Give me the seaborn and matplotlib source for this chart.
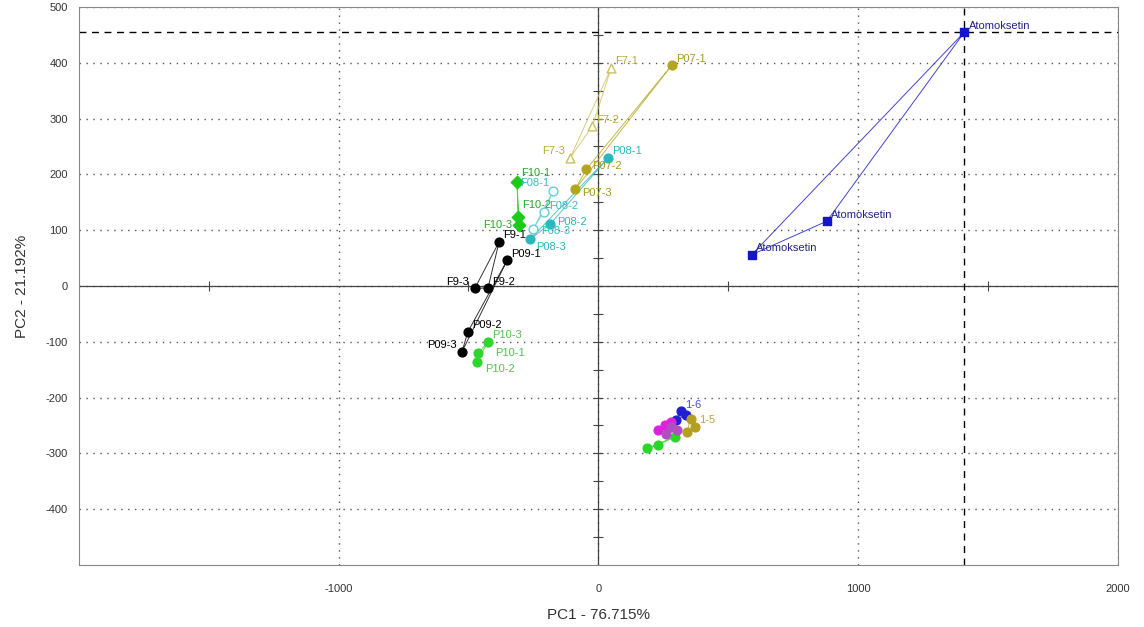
import numpy as np
import pandas as pd
import matplotlib
matplotlib.use("Agg")
import matplotlib.pyplot as plt
import seaborn as sns

# --- scores ---
atom_x = [1410, 880, 591]
atom_y = [455, 116, 56]
atom_lab = ["Atomoksetin", "Atomoksetin", "Atomoksetin"]

f7_x = [50, -23, -108]
f7_y = [391, 286, 230]
f7_lab = ["F7-1", "F7-2", "F7-3"]

p07_x = [282, -46, -89]
p07_y = [395, 209, 173]
p07_lab = ["P07-1", "P07-2", "P07-3"]

f08_x = [-174, -210, -251]
f08_y = [170, 132, 102]
f08_lab = ["F08-1", "F08-2", "F08-3"]

p08_x = [39, -185, -262]
p08_y = [230, 111, 84]
p08_lab = ["P08-1", "P08-2", "P08-3"]

f10_x = [-313, -309, -305]
f10_y = [186, 123, 110]
f10_lab = ["F10-1", "F10-2", "F10-3"]

p10_x = [-425, -463, -467]
p10_y = [-100, -121, -136]
p10_lab = ["P10-3", "P10-1", "P10-2"]

f9_x = [-382, -425, -475]
f9_y = [79, -4, -4]
f9_lab = ["F9-1", "F9-2", "F9-3"]

p09_x = [-351, -502, -525]
p09_y = [46, -82, -118]
p09_lab = ["P09-1", "P09-2", "P09-3"]

# small cluster in the lower right
s1_x = [317, 300, 338]
s1_y = [-225, -240, -232]
s1_lab = ["1-6", "", ""]
s2_x = [228, 255, 278]
s2_y = [-259, -250, -243]
s3_x = [189, 228, 297]
s3_y = [-291, -285, -270]
s4_x = [371, 355, 342]
s4_y = [-252, -238, -262]
s4_lab = ["1-5", "", ""]
s5_x = [280, 302, 262]
s5_y = [-252, -258, -266]

groups = [
    # x, y, labels, colour, marker, filled, text colour
    (atom_x, atom_y, atom_lab, "#1515c8", "s", True, "#22228a"),
    (f7_x, f7_y, f7_lab, "#c9c15a", "^", False, "#b5ab3c"),
    (p07_x, p07_y, p07_lab, "#b3a61e", "o", True, "#a89a1c"),
    (f08_x, f08_y, f08_lab, "#5fd0d8", "o", False, "#38bcc6"),
    (p08_x, p08_y, p08_lab, "#2ab8c0", "o", True, "#2ab8c0"),
    (f10_x, f10_y, f10_lab, "#18cc18", "D", True, "#2aa82a"),
    (p10_x, p10_y, p10_lab, "#2ed62e", "o", True, "#55c055"),
    (f9_x, f9_y, f9_lab, "#000000", "o", True, "#000000"),
    (p09_x, p09_y, p09_lab, "#000000", "o", True, "#000000"),
    (s1_x, s1_y, s1_lab, "#2020d0", "o", True, "#5050c8"),
    (s2_x, s2_y, ["", "", ""], "#e020e0", "o", True, "#e020e0"),
    (s3_x, s3_y, ["", "", ""], "#28d828", "o", True, "#28d828"),
    (s4_x, s4_y, s4_lab, "#b4a01e", "o", True, "#c8a040"),
    (s5_x, s5_y, ["", "", ""], "#b050c0", "o", True, "#b050c0"),
]

# label placement (points offset, horizontal alignment) where the default clashes
label_pos = {
    "F9-3": ((-4, 1), "right"),
    "F9-2": ((3, 1), "left"),
    "P07-2": ((4, -1), "left"),
    "P07-3": ((5, -6), "left"),
    "F08-1": ((-3, 2), "right"),
    "F08-2": ((4, 1), "left"),
    "F08-3": ((6, -5), "left"),
    "P08-2": ((5, -2), "left"),
    "P08-3": ((4, -9), "left"),
    "F10-1": ((3, 3), "left"),
    "F10-2": ((3, 5), "left"),
    "F10-3": ((-5, -4), "right"),
    "F7-3": ((-4, 1), "right"),
    "P10-1": ((12, -3), "left"),
    "P10-2": ((6, -9), "left"),
    "P09-3": ((-4, 1), "right"),
}

sns.set_style("white")
plt.rcParams["font.family"] = ["Liberation Sans", "DejaVu Sans"]
plt.rcParams["axes.unicode_minus"] = False

fig = plt.figure(figsize=(11.44, 6.27), dpi=100)
ax = fig.add_axes([0.069, 0.099, 0.908, 0.890])

ax.set_xlim(-2000, 2000)
ax.set_ylim(-500, 500)
ax.set_xticks([-1000, 0, 1000, 2000])
ax.set_yticks(np.arange(-400, 501, 100))
ax.grid(True, linestyle=(0, (1, 4)), color="#555555", linewidth=1.0)
ax.tick_params(axis="x", length=0, pad=14, labelsize=8, colors="#333333")
ax.tick_params(axis="y", length=0, pad=8, labelsize=8, colors="#333333")
for s in ax.spines.values():
    s.set_color("#888888")
    s.set_linewidth(0.8)

# central axes with small ticks
ax.axhline(0, color="#444444", lw=0.9, zorder=1)
ax.axvline(0, color="#444444", lw=0.9, zorder=1)
yt = np.arange(-450, 500, 50)
ax.plot(np.zeros_like(yt), yt, ls="none", marker="_", ms=7, color="#444444", mew=0.8, zorder=1)
xt = np.array([-1500, -500, 500, 1500])
ax.plot(xt, np.zeros_like(xt), ls="none", marker="|", ms=7, color="#444444", mew=0.8, zorder=1)

for gx, gy, glab, col, mk, filled, tcol in groups:
    # connect replicates as a closed polygon
    ax.plot(gx + gx[:1], gy + gy[:1], color=col, lw=0.7, alpha=0.8, zorder=2)
    df = pd.DataFrame({"x": gx, "y": gy})
    sns.scatterplot(data=df, x="x", y="y", marker=mk, s=40,
                    color=col if filled else "white", edgecolor=col,
                    linewidth=1.0, ax=ax, zorder=3, legend=False)
    for px, py, t in zip(gx, gy, glab):
        if t:
            off, ha = label_pos.get(t, ((3, 1), "left"))
            ax.annotate(t, (px, py), xytext=off, textcoords="offset points",
                        fontsize=8, color=tcol, va="bottom", ha=ha, zorder=4)

# reference lines through the extreme Atomoksetin score
ax.axhline(max(atom_y), color="black", ls=(0, (5, 4)), lw=1.0, zorder=2)
ax.axvline(atom_x[int(np.argmax(atom_y))], color="black", ls=(0, (5, 4)), lw=1.0, zorder=2)

ax.set_xlabel("PC1 - 76.715%", fontsize=11, color="#333333", labelpad=10)
ax.set_ylabel("PC2 - 21.192%", fontsize=11, color="#333333", labelpad=12)

fig.savefig("out.png", dpi=100)
